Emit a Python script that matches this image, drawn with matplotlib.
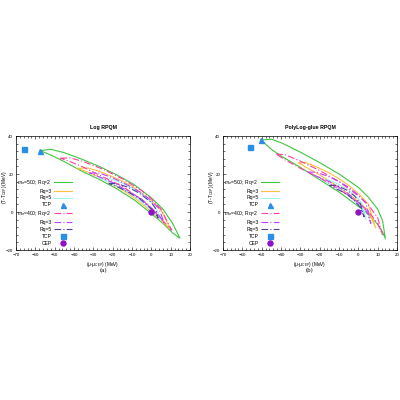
import matplotlib
matplotlib.use("Agg")
import matplotlib.pyplot as plt
from matplotlib.lines import Line2D
from matplotlib.ticker import MultipleLocator

plt.rcParams["font.family"] = ["Liberation Sans", "DejaVu Sans"]
plt.rcParams["mathtext.fontset"] = "custom"
plt.rcParams["mathtext.it"] = "Liberation Sans:italic"
plt.rcParams["mathtext.rm"] = "Liberation Sans"

# ---------------- data ----------------
# Left panel: Log RPQM
L_g2_x = [-57.5, -52, -45, -36, -27, -18, -9, 0, 6, 11, 14.8]
L_g2_up = [32.3, 33.0, 31.2, 27.8, 24.0, 19.6, 14.5, 7.5, 1.5, -6.0, -13.8]
L_g2_lo = [32.3, 30.0, 26.5, 21.5, 17.2, 12.3, 6.5, -0.8, -6.0, -11.0, -13.8]

L_o3_x = [-38, -33, -27, -20, -15, -10, -5, 0, 5, 10]
L_o3_up = [23, 23.2, 21.5, 18.5, 16.2, 13.5, 10.0, 6.0, 1.0, -9]
L_o3_lo = [23, 21.0, 18.5, 14.5, 11.6, 8.3, 4.5, 0.2, -4.5, -9]

L_c5_x = [-27, -22, -16, -10, -5, 0, 3, 5]
L_c5_up = [18, 17.8, 15.6, 12.8, 9.5, 5.2, 1.2, -4.5]
L_c5_lo = [18, 15.8, 12.8, 9.2, 5.3, 1.0, -2.0, -4.5]

L_p2_x = [-47, -42, -35, -25, -15, -5, 0, 5, 10.5]
L_p2_up = [28.3, 28.5, 26.5, 22.5, 17.5, 11.3, 7.0, 1.5, -9.5]
L_p2_lo = [28.3, 26.5, 23.5, 18.5, 13.5, 6.5, 2.0, -3.5, -9.5]

L_v3_x = [-32, -27, -20, -12, -5, 0, 4, 6.5]
L_v3_up = [20.5, 20.5, 18.0, 14.0, 10.0, 6.0, 1.8, -5.5]
L_v3_lo = [20.5, 18.5, 15.5, 11.0, 6.8, 2.2, -1.8, -5.5]

L_n5_x = [-22, -18, -12, -6, 0, 2, 3.5]
L_n5_up = [15, 15.0, 13.0, 9.8, 5.0, 2.2, -3]
L_n5_lo = [15, 13.5, 10.5, 7.0, 1.6, -0.5, -3]

L_tcp500 = (-57.5, 32.3)
L_tcp400 = (-66.0, 33.0)
L_cep = (0.0, 0.0)

# Right panel: PolyLog-glue RPQM
R_g2_x = [-50.3, -45, -40, -30, -20, -10, 0, 5, 10, 12.5, 14]
R_g2_up = [37.9, 38.3, 36.5, 31.5, 26.0, 20.0, 13.0, 8.0, 1.5, -4.5, -14]
R_g2_lo = [37.9, 33.0, 29.5, 23.5, 17.0, 10.5, 3.0, -1.0, -6.5, -10.5, -14]

R_p2_x = [-42.5, -38, -30, -20, -10, 0, 5, 10, 12.5]
R_p2_up = [30.5, 30.2, 26.8, 21.8, 16.0, 8.5, 4.0, -3.0, -12]
R_p2_lo = [30.5, 27.5, 23.0, 18.0, 12.0, 5.0, 0.5, -6.0, -12]

R_o3_x = [-31, -27, -20, -15, -10, -5, 0, 5, 9]
R_o3_up = [26, 26.0, 23.0, 20.5, 17.5, 14.0, 9.8, 4.5, -8.5]
R_o3_lo = [26, 23.5, 19.5, 16.3, 13.0, 9.5, 5.5, 1.0, -8.5]

R_v3_x = [-26, -22, -15, -10, -5, 0, 4, 6.5]
R_v3_up = [21, 21.0, 18.5, 16.0, 13.0, 9.0, 4.5, -6]
R_v3_lo = [21, 19.0, 16.0, 13.0, 9.5, 5.0, 1.0, -6]

R_c5_x = [-19, -15, -10, -5, 0, 2.5, 4]
R_c5_up = [17, 16.8, 14.5, 11.5, 7.0, 3.5, -4]
R_c5_lo = [17, 15.0, 12.5, 8.5, 4.0, 0.5, -4]

R_n5_x = [-15, -11, -6, -2, 1, 3]
R_n5_up = [14, 14.0, 11.5, 8.5, 4.5, -2.5]
R_n5_lo = [14, 12.0, 9.5, 6.0, 2.5, -2.5]

R_tcp500 = (-50.3, 37.9)
R_tcp400 = (-56.0, 34.0)
R_cep = (0.0, 0.0)

titles = ["Log RPQM", "PolyLog-glue RPQM"]
captions = ["(a)", "(b)"]
labels = ["$m_\\sigma$=500; Rq=2", "Rq=3", "Rq=5", "TCP",
          "$m_\\sigma$=400; Rq=2", "Rq=3", "Rq=5", "TCP", "CEP"]

# ---------------- styles ----------------
C_G = "#3fc63f"
C_O = "#ffbf40"
C_C = "#a0f0f8"
C_P = "#ff3f9f"
C_V = "#c040ff"
C_N = "#5040a0"
C_TRI = "#2a8fe8"
C_SQ = "#2a8fe8"
C_CEP = "#9010c8"
DASHDOT = (0, (6, 2, 1, 2))
LW = 0.8
MS = 3.6

fig = plt.figure(figsize=(4, 4), dpi=100)
axes = [fig.add_axes([0.04, 0.375, 0.435, 0.285]),
        fig.add_axes([0.5575, 0.375, 0.435, 0.285])]

panels = [
    dict(loops=[(L_g2_x, L_g2_up, L_g2_lo, C_G, "-"),
                (L_o3_x, L_o3_up, L_o3_lo, C_O, "-"),
                (L_c5_x, L_c5_up, L_c5_lo, C_C, "-"),
                (L_p2_x, L_p2_up, L_p2_lo, C_P, DASHDOT),
                (L_v3_x, L_v3_up, L_v3_lo, C_V, DASHDOT),
                (L_n5_x, L_n5_up, L_n5_lo, C_N, DASHDOT)],
         tcp500=L_tcp500, tcp400=L_tcp400, cep=L_cep),
    dict(loops=[(R_g2_x, R_g2_up, R_g2_lo, C_G, "-"),
                (R_o3_x, R_o3_up, R_o3_lo, C_O, "-"),
                (R_c5_x, R_c5_up, R_c5_lo, C_C, "-"),
                (R_p2_x, R_p2_up, R_p2_lo, C_P, DASHDOT),
                (R_v3_x, R_v3_up, R_v3_lo, C_V, DASHDOT),
                (R_n5_x, R_n5_up, R_n5_lo, C_N, DASHDOT)],
         tcp500=R_tcp500, tcp400=R_tcp400, cep=R_cep),
]

for ax, p, title, cap in zip(axes, panels, titles, captions):
    for xs, up, lo, col, ls in p["loops"]:
        px = list(xs) + list(xs[::-1])
        py = list(up) + list(lo[::-1])
        ax.plot(px, py, color=col, lw=LW, linestyle=ls)
    ax.plot([p["tcp500"][0]], [p["tcp500"][1]], marker="^", ms=MS, color=C_TRI, ls="none")
    ax.plot([p["tcp400"][0]], [p["tcp400"][1]], marker="s", ms=MS, color=C_SQ, ls="none")
    ax.plot([p["cep"][0]], [p["cep"][1]], marker="o", ms=MS, color=C_CEP, ls="none")

    handles = [Line2D([], [], color=C_G, lw=LW),
               Line2D([], [], color=C_O, lw=LW),
               Line2D([], [], color=C_C, lw=LW),
               Line2D([], [], color=C_TRI, marker="^", ms=MS, ls="none"),
               Line2D([], [], color=C_P, lw=LW, ls=DASHDOT),
               Line2D([], [], color=C_V, lw=LW, ls=DASHDOT),
               Line2D([], [], color=C_N, lw=LW, ls=DASHDOT),
               Line2D([], [], color=C_SQ, marker="s", ms=MS, ls="none"),
               Line2D([], [], color=C_CEP, marker="o", ms=MS, ls="none")]
    ax.legend(handles, labels, loc="upper right", bbox_to_anchor=(0.322, 0.635),
              markerfirst=False, frameon=False, handlelength=3.6,
              handletextpad=0.5, labelspacing=0.38, borderpad=0, borderaxespad=0,
              prop=dict(size=3.6))

    ax.set_xlim(-70, 20)
    ax.set_ylim(-20, 40)
    ax.xaxis.set_major_locator(MultipleLocator(10))
    ax.yaxis.set_major_locator(MultipleLocator(20))
    ax.xaxis.set_minor_locator(MultipleLocator(2))
    ax.yaxis.set_minor_locator(MultipleLocator(4))
    ax.tick_params(which="both", direction="in", top=True, right=True,
                   labelsize=3.2, width=0.4, pad=2)
    ax.tick_params(which="major", length=2.5)
    ax.tick_params(which="minor", length=1.2)
    for s in ax.spines.values():
        s.set_linewidth(0.5)
    ax.set_title(title, fontsize=3.8, fontweight="bold", pad=5)
    ax.set_xlabel("(\u03bc-\u03bc$_{CEP}$) (MeV)", fontsize=3.4, labelpad=2)
    ax.set_ylabel("(T-T$_{CEP}$) (MeV)", fontsize=3.4, va="center")
    ax.yaxis.set_label_coords(-0.068, 0.55)
    bb = ax.get_position()
    fig.text(bb.x0 + bb.width / 2, 0.3225, cap, fontsize=4, ha="center", va="center",
             family="DejaVu Serif")

fig.savefig("out.png", dpi=100)
